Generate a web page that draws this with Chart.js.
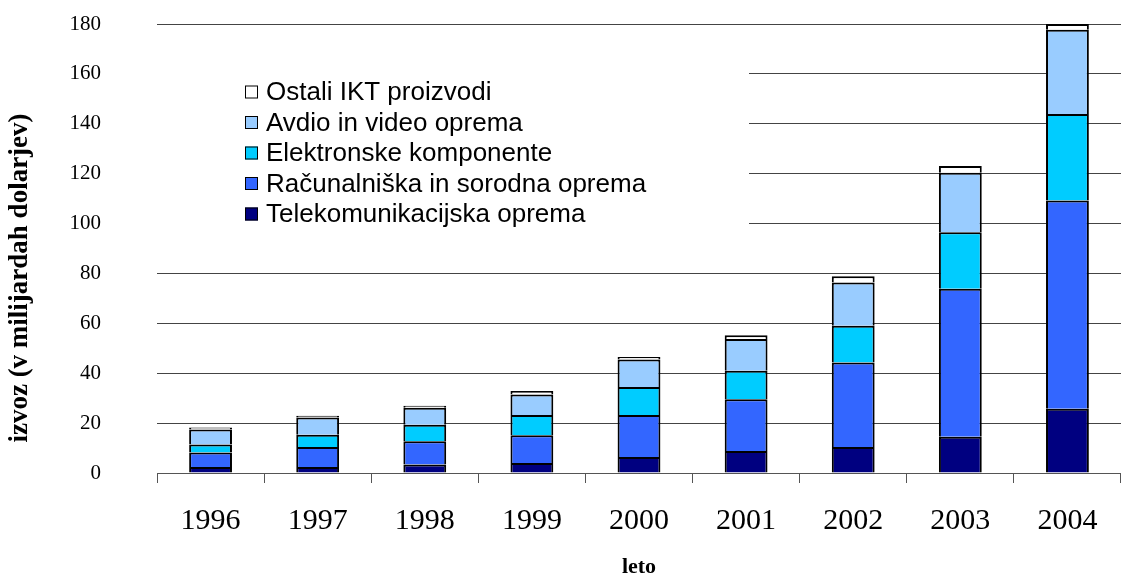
<!DOCTYPE html>
<html>
<head>
<meta charset="utf-8">
<script src="https://cdn.jsdelivr.net/npm/chart.js"></script>
<style>
  body { margin: 0; background: #fff; }
</style>
</head>
<body>
<canvas id="myChart" width="1121" height="585"></canvas>
<script>
// values, in billions of dollars
var years = ['1996', '1997', '1998', '1999', '2000', '2001', '2002', '2003', '2004'];
var telekomunikacijska = [2.4, 2.4, 3.4, 4.0, 6.4, 8.8, 10.4, 14.5, 25.8];
var racunalniska = [5.8, 8.0, 9.3, 11.1, 16.9, 20.8, 33.9, 59.4, 83.4];
var elektronske = [3.2, 4.9, 6.6, 8.2, 11.2, 11.4, 14.7, 22.6, 34.7];
var avdio = [6.0, 6.9, 6.9, 8.2, 11.0, 12.7, 17.4, 23.9, 33.8];
var ostali = [0.8, 0.8, 0.8, 1.4, 1.0, 1.5, 2.5, 2.7, 2.3];
var yTicks = [0, 20, 40, 60, 80, 100, 120, 140, 160, 180];

var serif = "'Liberation Serif', 'Times New Roman', serif";
var sans = "'Liberation Sans', Arial, sans-serif";

function bar(label, data, color) {
    return {
        label: label,
        data: data,
        backgroundColor: color,
        borderColor: '#000',
        borderWidth: 2,
        borderSkipped: 'start', // one line between stacked segments
        inflateAmount: 0,
        categoryPercentage: 1,
        barPercentage: 0.4
    };
}

// legend drawn inside the plot, on a white box that hides the gridlines
var boxLegend = {
    id: 'boxLegend',
    afterDraw: function (chart) {
        var ctx = chart.ctx;
        ctx.save();
        ctx.fillStyle = '#fff';
        ctx.fillRect(150, 55, 599, 185);
        var sets = chart.data.datasets.slice().reverse();
        ctx.font = '26px ' + sans;
        ctx.textBaseline = 'middle';
        ctx.textAlign = 'left';
        sets.forEach(function (ds, i) {
            var y = 92 + i * 30.5;
            ctx.fillStyle = ds.backgroundColor;
            ctx.fillRect(245, y - 6.5, 13, 13);
            ctx.strokeStyle = '#000';
            ctx.lineWidth = 1;
            ctx.strokeRect(245.5, y - 6, 12, 12);
            ctx.fillStyle = '#000';
            ctx.fillText(ds.label, 266, y + 1);
        });
        // y axis title
        ctx.translate(20, 278);
        ctx.rotate(-Math.PI / 2);
        ctx.font = 'bold 27px ' + serif;
        ctx.textAlign = 'center';
        ctx.fillText('izvoz (v milijardah dolarjev)', 0, 0);
        ctx.restore();
    }
};

var ctx = document.getElementById('myChart').getContext('2d');
var myChart = new Chart(ctx, {
    type: 'bar',
    data: {
        labels: years,
        datasets: [
            bar('Telekomunikacijska oprema', telekomunikacijska, '#000080'),
            bar('Računalniška in sorodna oprema', racunalniska, '#3366FF'),
            bar('Elektronske komponente', elektronske, '#00CCFF'),
            bar('Avdio in video oprema', avdio, '#99CCFF'),
            bar('Ostali IKT proizvodi', ostali, '#FFFFFF')
        ]
    },
    options: {
        responsive: false,
        animation: false,
        layout: { padding: { top: 24, right: 0, bottom: 0, left: 0 } },
        plugins: {
            legend: { display: false },
            tooltip: { enabled: false }
        },
        scales: {
            x: {
                stacked: true,
                afterFit: function (s) { s.height = 112; },
                grid: {
                    offset: true,
                    drawOnChartArea: false,
                    drawTicks: true,
                    tickLength: 10,
                    color: '#555'
                },
                border: { display: true, color: '#555' },
                ticks: {
                    color: '#000',
                    padding: 20,
                    font: { family: serif, size: 30 }
                },
                title: {
                    display: true,
                    text: 'leto',
                    color: '#000',
                    padding: { top: 0, bottom: 4 },
                    font: { family: serif, size: 22, weight: 'bold' }
                }
            },
            y: {
                stacked: true,
                min: 0,
                max: 180,
                afterFit: function (s) {
                    s.width = 157;
                    // big label padding would otherwise push the plot down
                    s.paddingTop = 12;
                    s.paddingBottom = 12;
                },
                afterBuildTicks: function (s) {
                    s.ticks = yTicks.map(function (v) { return { value: v }; });
                },
                grid: { drawTicks: false, color: '#444' },
                border: { display: false },
                ticks: {
                    color: '#000',
                    padding: 56,
                    font: { family: serif, size: 21 }
                }
            }
        }
    },
    plugins: [boxLegend]
});
</script>
</body>
</html>
